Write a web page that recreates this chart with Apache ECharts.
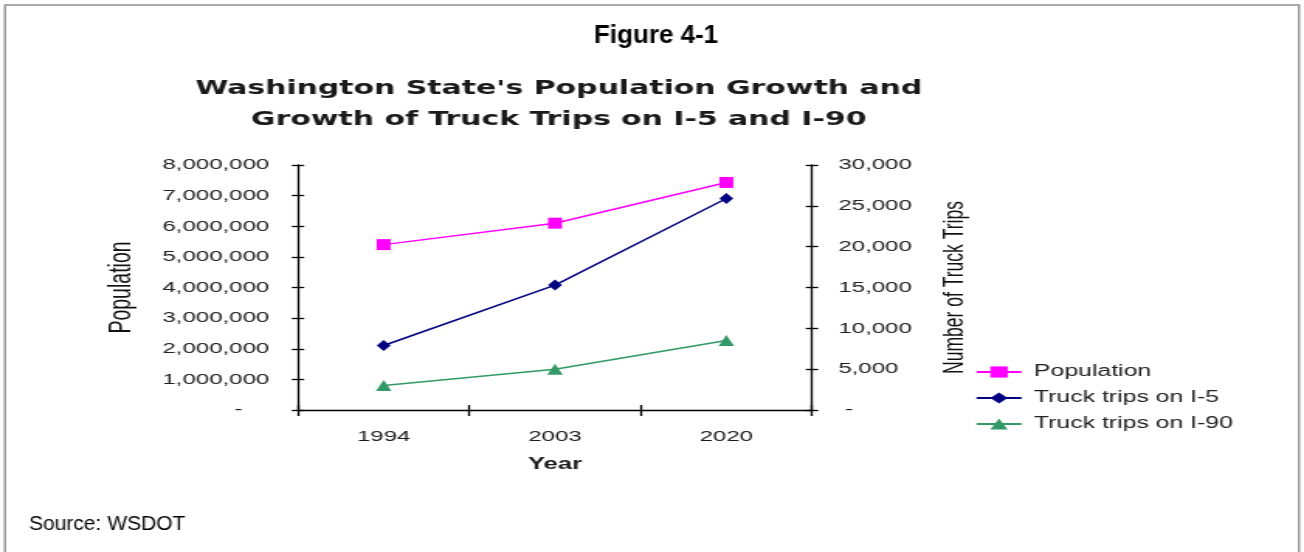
<!DOCTYPE html>
<html>
<head>
<meta charset="utf-8">
<script src="https://cdn.jsdelivr.net/npm/echarts@6/dist/echarts.min.js"></script>
<style>
html,body{margin:0;padding:0;background:#fff;overflow:hidden;}
#c{width:841px;height:552px;transform:scaleX(1.55054);transform-origin:0 0;}
</style>
</head>
<body>
<div id="c"></div>
<script>
const years = ['1994', '2003', '2020'];
const population = [5400000, 6100000, 7430000];
const truckI5 = [7900, 15300, 25900];
const truckI90 = [3000, 5000, 8500];
const seriesNames = ['Population', 'Truck trips on I-5', 'Truck trips on I-90'];
const leftTicks = {min: 0, max: 8000000, step: 1000000};
const rightTicks = {min: 0, max: 30000, step: 5000};

const S = 1304 / 841; // horizontal stretch of the original picture
const chart = echarts.init(document.getElementById('c'), null, {renderer: 'canvas', width: 841, height: 552});
const F = 'Liberation Sans';
const fmt = v => v.toLocaleString('en-US');
const tickStyle = {color: '#000', width: 1.3};

chart.setOption({
  animation: false,
  backgroundColor: '#fff',
  title: [
    {text: "Washington State's Population Growth and\nGrowth of Truck Trips on I-5 and I-90",
     left: 551 / S, top: 68, textAlign: 'center',
     textStyle: {fontFamily: 'DejaVu Sans', fontWeight: 'bold', fontSize: 19.3, lineHeight: 31, color: '#1a1a1a'}}
  ],
  graphic: [
    {type: 'rect', shape: {x: 5 / S, y: 5, width: 1294 / S, height: 580}, style: {fill: 'none', stroke: '#8c8c8c', lineWidth: 1.3}, silent: true},
    {type: 'text', x: 656 / S, y: 35.5, scaleX: 1 / S,
     style: {text: 'Figure 4-1', font: 'bold 26px "Liberation Sans"', fill: '#000', align: 'center', verticalAlign: 'middle'}},
    {type: 'text', x: 29 / S, y: 524, scaleX: 1 / S,
     style: {text: 'Source: WSDOT', font: '21px "Liberation Sans"', fill: '#000', align: 'left', verticalAlign: 'middle'}}
  ],
  grid: {left: 298 / S, right: 841 - 812 / S, top: 165, bottom: 142},
  legend: {
    data: seriesNames, orient: 'vertical', left: 975 / S, top: 364, padding: 0, itemGap: 10, itemWidth: 29, itemHeight: 14,
    textStyle: {fontFamily: F, fontSize: 16, color: '#222', padding: [0, 0, 0, 3]}
  },
  xAxis: [
    {type: 'category', data: years, boundaryGap: true, position: 'bottom',
     name: 'Year', nameLocation: 'middle', nameGap: 46,
     nameTextStyle: {fontFamily: F, fontWeight: 'bold', fontSize: 16.5, color: '#1a1a1a'},
     axisLine: {show: true, lineStyle: tickStyle}, axisTick: {show: true, length: 6, lineStyle: tickStyle},
     axisLabel: {margin: 19, fontFamily: F, fontSize: 15.5, color: '#1a1a1a'}},
    {type: 'category', data: years, boundaryGap: true, position: 'bottom',
     axisLine: {show: false}, axisTick: {show: true, inside: true, length: 5, lineStyle: tickStyle},
     axisLabel: {show: false}}
  ],
  yAxis: [
    {type: 'value', min: leftTicks.min, max: leftTicks.max, interval: leftTicks.step, position: 'left',
     name: 'Population', nameLocation: 'middle', nameGap: 104, nameRotate: 90,
     nameTextStyle: {fontFamily: F, fontWeight: 'normal', fontSize: 19.5, color: '#111'},
     axisLine: {show: true, lineStyle: tickStyle}, axisTick: {show: true, length: 4, lineStyle: tickStyle},
     splitLine: {show: false},
     axisLabel: {margin: 18.5, fontFamily: F, fontSize: 15.5, color: '#222',
       formatter: v => v === 0 ? '-    ' : fmt(v)}},
    {type: 'value', min: rightTicks.min, max: rightTicks.max, interval: rightTicks.step, position: 'right',
     name: 'Number of Truck Trips', nameLocation: 'middle', nameGap: 83, nameRotate: 90,
     nameTextStyle: {fontFamily: F, fontWeight: 'normal', fontSize: 17.5, color: '#111'},
     axisLine: {show: true, lineStyle: tickStyle}, axisTick: {show: true, length: 4, lineStyle: tickStyle},
     splitLine: {show: false},
     axisLabel: {margin: 17, fontFamily: F, fontSize: 15.5, color: '#222', formatter: v => v === 0 ? ' -' : fmt(v)}},
    {type: 'value', min: leftTicks.min, max: leftTicks.max, interval: leftTicks.step, position: 'left',
     axisLine: {show: false}, axisTick: {show: true, inside: true, length: 4, lineStyle: tickStyle},
     splitLine: {show: false}, axisLabel: {show: false}},
    {type: 'value', min: rightTicks.min, max: rightTicks.max, interval: rightTicks.step, position: 'right',
     axisLine: {show: false}, axisTick: {show: true, inside: true, length: 4, lineStyle: tickStyle},
     splitLine: {show: false}, axisLabel: {show: false}}
  ],
  series: [
    {name: seriesNames[0], type: 'line', yAxisIndex: 0, data: population,
     symbol: 'rect', symbolSize: [9, 11], itemStyle: {color: '#ff00ff'}, lineStyle: {color: '#ff00ff', width: 1.5}},
    {name: seriesNames[1], type: 'line', yAxisIndex: 1, data: truckI5,
     symbol: 'diamond', symbolSize: [9, 11], itemStyle: {color: '#000080'}, lineStyle: {color: '#000080', width: 1.5}},
    {name: seriesNames[2], type: 'line', yAxisIndex: 1, data: truckI90,
     symbol: 'triangle', symbolSize: [10, 11], itemStyle: {color: '#339966'}, lineStyle: {color: '#339966', width: 1.5}}
  ]
});
</script>
</body>
</html>
